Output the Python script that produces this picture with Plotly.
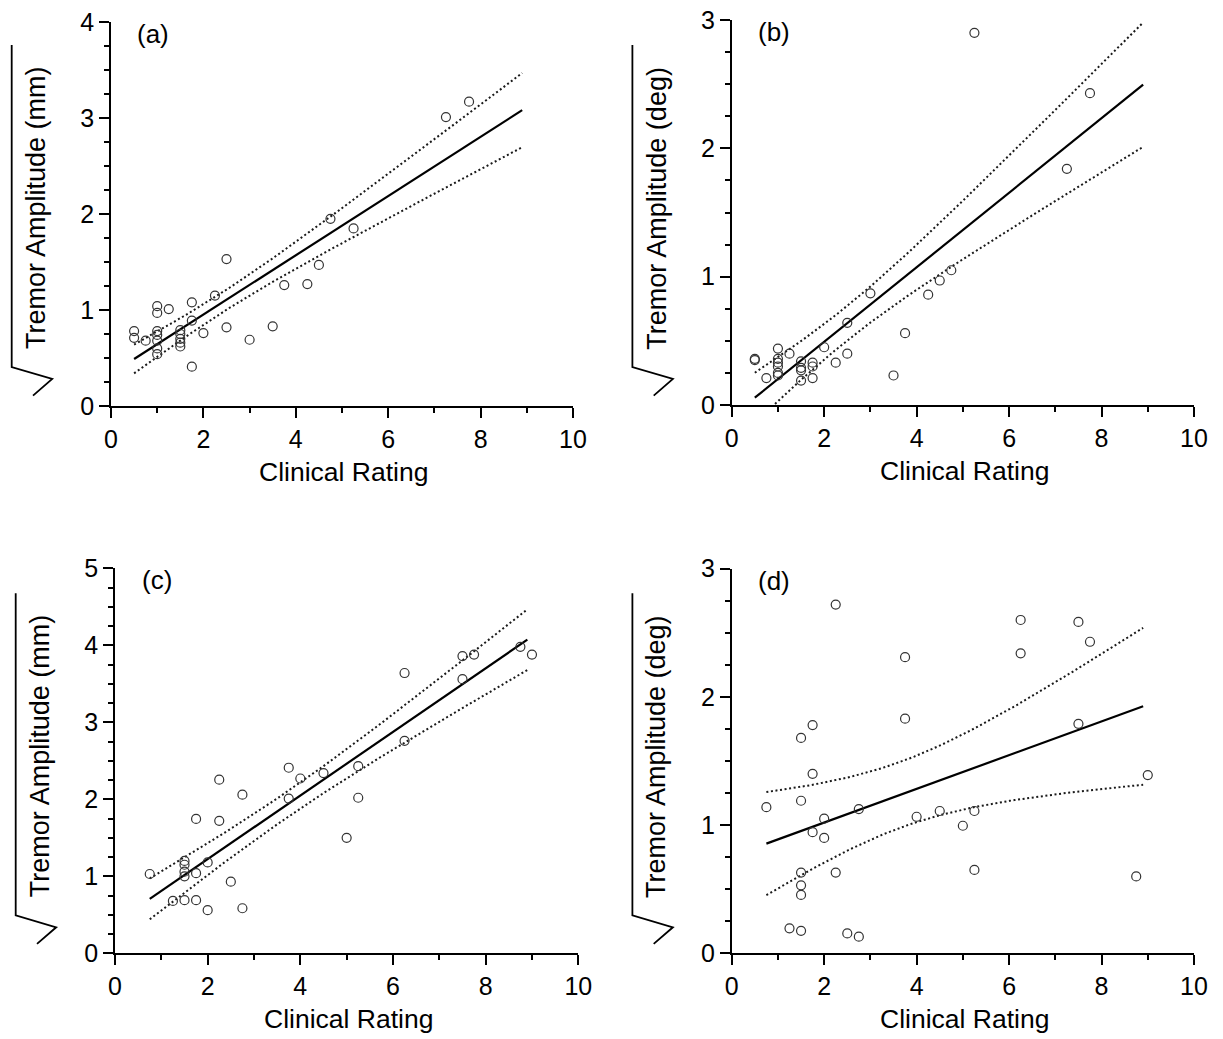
import numpy as np
import plotly.graph_objects as go

W, H = 1223, 1039
PAGE_OFFSET = 8  # default body margin of the written HTML page

# ---------------- data ----------------
A_x = [0.5, 0.5, 0.75, 1, 1, 1, 1, 1, 1, 1, 1.25, 1.5, 1.5, 1.5, 1.5, 1.5,
       1.75, 1.75, 1.75, 2, 2.25, 2.5, 2.5, 3, 3.5, 3.75, 4.25, 4.5, 4.75, 5.25, 7.25, 7.75]
A_y = [0.78, 0.71, 0.68, 1.04, 0.97, 0.78, 0.74, 0.68, 0.60, 0.54, 1.01, 0.79, 0.75, 0.70, 0.66, 0.62,
       1.08, 0.89, 0.41, 0.76, 1.15, 1.53, 0.82, 0.69, 0.83, 1.26, 1.27, 1.47, 1.95, 1.85, 3.01, 3.17]

B_x = [0.5, 0.5, 0.75, 1, 1, 1, 1, 1, 1, 1.25, 1.5, 1.5, 1.5, 1.5, 1.75, 1.75, 1.75,
       2, 2.25, 2.5, 2.5, 3, 3.5, 3.75, 4.25, 4.5, 4.75, 5.25, 7.25, 7.75]
B_y = [0.36, 0.35, 0.21, 0.44, 0.36, 0.33, 0.30, 0.25, 0.23, 0.40, 0.34, 0.29, 0.27, 0.19, 0.33, 0.30, 0.21,
       0.45, 0.33, 0.64, 0.40, 0.87, 0.23, 0.56, 0.86, 0.97, 1.05, 2.90, 1.84, 2.43]

C_x = [0.75, 1.25, 1.5, 1.5, 1.5, 1.5, 1.5, 1.75, 1.75, 1.75, 2, 2, 2.25, 2.25, 2.5, 2.75, 2.75,
       3.75, 3.75, 4, 4.5, 5, 5.25, 5.25, 6.25, 6.25, 7.5, 7.5, 7.75, 8.75, 9]
C_y = [1.03, 0.68, 1.20, 1.15, 1.06, 1.00, 0.69, 1.745, 1.04, 0.69, 1.18, 0.56, 2.255, 1.72, 0.93, 2.06, 0.585,
       2.41, 2.01, 2.27, 2.34, 1.50, 2.43, 2.02, 3.64, 2.76, 3.86, 3.56, 3.88, 3.98, 3.88]

D_x = [0.75, 1.25, 1.5, 1.5, 1.5, 1.5, 1.5, 1.5, 1.75, 1.75, 1.75, 2, 2, 2.25, 2.25, 2.5, 2.75, 2.75,
       3.75, 3.75, 4, 4.5, 5, 5.25, 5.25, 6.25, 6.25, 7.5, 7.5, 7.75, 8.75, 9]
D_y = [1.14, 0.195, 1.68, 1.19, 0.63, 0.53, 0.455, 0.175, 1.78, 1.40, 0.945, 1.05, 0.90, 2.72, 0.63, 0.155,
       1.125, 0.13, 2.31, 1.83, 1.065, 1.11, 0.995, 1.11, 0.65, 2.60, 2.34, 2.585, 1.79, 2.43, 0.60, 1.39]

# end of the drawn regression line on the x axis
FIT_END = [8.9, 8.9, 8.9, 8.9]
T_CRIT = 2.04  # 95 % two-sided, df ~ 30

PANEL_LABELS = ["(a)", "(b)", "(c)", "(d)"]
Y_TITLES = ["Tremor Amplitude (mm)", "Tremor Amplitude (deg)",
            "Tremor Amplitude (mm)", "Tremor Amplitude (deg)"]
X_TITLE = "Clinical Rating"
Y_MAX = [4, 3, 5, 3]
X_TICKS = [0, 2, 4, 6, 8, 10]

DATA = [(A_x, A_y), (B_x, B_y), (C_x, C_y), (D_x, D_y)]

# ---------------- layout geometry (screen pixels) ----------------
# (x0, x1, y_bottom, y_top) of each plotting area
BOXES = [(111, 573, 406, 22), (731.7, 1194, 405, 20),
         (115, 578.3, 953.3, 568.3), (731.7, 1194, 953.3, 568.7)]


def px(x):
    return (x - PAGE_OFFSET) / W


def py(y):
    return 1 - (y - PAGE_OFFSET) / H


def fit(x, y, x0, x1, n=80):
    x = np.asarray(x, float)
    y = np.asarray(y, float)
    m = len(x)
    xm, ym = x.mean(), y.mean()
    sxx = ((x - xm) ** 2).sum()
    b = ((x - xm) * (y - ym)).sum() / sxx
    a = ym - b * xm
    s = np.sqrt(((y - a - b * x) ** 2).sum() / (m - 2))
    xs = np.linspace(x0, x1, n)
    yh = a + b * xs
    hw = T_CRIT * s * np.sqrt(1 / m + (xs - xm) ** 2 / sxx)
    return xs, yh, yh - hw, yh + hw


FONT = "Liberation Sans, Arial, sans-serif"
fig = go.Figure()
annotations = []
shapes = []

for i, ((xd, yd), box) in enumerate(zip(DATA, BOXES)):
    k = "" if i == 0 else str(i + 1)
    xa, ya = "x" + k, "y" + k
    xs, yh, lo, hi = fit(xd, yd, min(xd), FIT_END[i])
    for band in (lo, hi):
        fig.add_trace(go.Scatter(x=xs, y=band, mode="lines", xaxis=xa, yaxis=ya,
                                 line=dict(color="#1a1a1a", width=2, dash="2px,2.6px"),
                                 showlegend=False, hoverinfo="skip"))
    fig.add_trace(go.Scatter(x=xs, y=yh, mode="lines", xaxis=xa, yaxis=ya,
                             line=dict(color="black", width=2.2), showlegend=False))
    fig.add_trace(go.Scatter(x=xd, y=yd, mode="markers", xaxis=xa, yaxis=ya,
                             marker=dict(symbol="circle-open", size=9, color="#333333",
                                         line=dict(width=1.2, color="#333333")),
                             cliponaxis=False, showlegend=False))

    x0, x1, yb, yt = box
    axis_common = dict(showline=True, linecolor="black", linewidth=1.8,
                       ticks="outside", ticklen=10, tickwidth=1.8, tickcolor="black",
                       showgrid=False, zeroline=False, mirror=False, automargin=False,
                       ticklabeloverflow="allow",
                       tickfont=dict(family=FONT, size=25, color="black"))
    fig.update_layout(**{
        ("xaxis" + k): dict(domain=[px(x0), px(x1)], range=[0, 10], anchor=ya,
                            tickvals=X_TICKS,
                            minor=dict(dtick=1, ticks="outside", ticklen=5, tickwidth=1.8,
                                       tickcolor="black"),
                            **axis_common),
        ("yaxis" + k): dict(domain=[py(yb), py(yt)], range=[0, Y_MAX[i]], anchor=xa,
                            dtick=1,
                            minor=dict(dtick=0.25, ticks="outside", ticklen=5, tickwidth=1.8,
                                       tickcolor="black"),
                            **axis_common),
    })

    # panel label
    annotations.append(dict(text=PANEL_LABELS[i], xref="paper", yref="paper",
                            x=px(x0 + 42), y=py(yt + 12), xanchor="center", yanchor="middle",
                            showarrow=False, font=dict(family=FONT, size=26, color="black")))
    # x title
    annotations.append(dict(text=X_TITLE, xref="paper", yref="paper",
                            x=px((x0 + x1) / 2 + 1.5), y=py(yb + 66), xanchor="center",
                            yanchor="middle", showarrow=False,
                            font=dict(family=FONT, size=26.5, color="black")))
    # y title (rotated) with radical sign
    col_dx = x0 - 111
    row_dy = 0 if i < 2 else 548.3
    annotations.append(dict(text=Y_TITLES[i], xref="paper", yref="paper", textangle=-90,
                            x=px(36 + col_dx), y=py(208 + row_dy), xanchor="center",
                            yanchor="middle", showarrow=False,
                            font=dict(family=FONT, size=27, color="black")))
    bx = 11.7 + col_dx
    ytop, ybot = 45 + row_dy, 367 + row_dy
    path = (f"M {px(bx)},{py(ytop)} L {px(bx)},{py(ybot)} "
            f"L {px(bx + 40.5)},{py(ybot + 12)} L {px(bx + 21.3)},{py(ybot + 28.6)}")
    shapes.append(dict(type="path", xref="paper", yref="paper", path=path,
                       line=dict(color="black", width=1.8)))

fig.update_layout(width=W, height=H,
                  margin=dict(l=0, r=0, t=0, b=0, pad=0, autoexpand=False),
                  paper_bgcolor="white", plot_bgcolor="white", showlegend=False,
                  annotations=annotations, shapes=shapes,
                  font=dict(family=FONT, color="black"))

fig.write_html("out.html")
